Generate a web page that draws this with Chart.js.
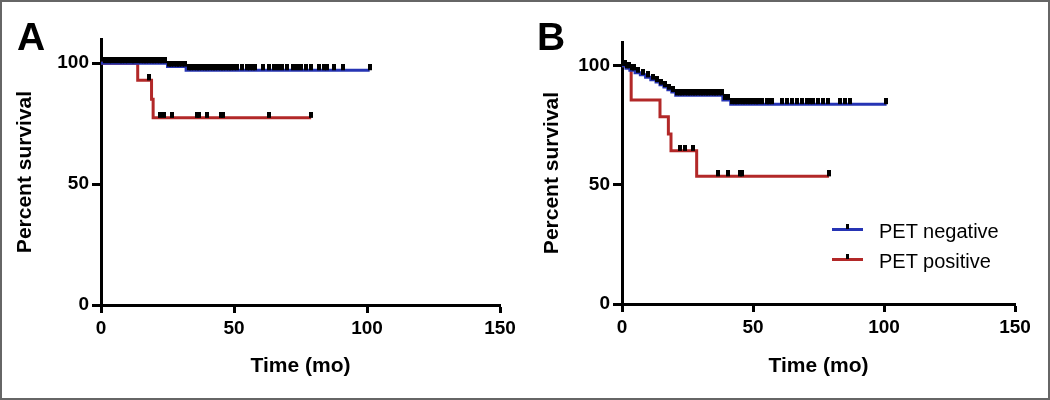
<!DOCTYPE html>
<html>
<head>
<meta charset="utf-8">
<script src="https://cdn.jsdelivr.net/npm/chart.js@4.4.1/dist/chart.umd.min.js"></script>
<style>
  html, body { margin: 0; padding: 0; background: #fff; }
  #frame { position: relative; width: 1050px; height: 400px; overflow: hidden;
           font-family: "Liberation Sans", Arial, sans-serif; color: #000; }
  #border { position: absolute; left: 0; top: 0; right: 0; bottom: 0;
            border: 2px solid #666; pointer-events: none; }
  canvas { position: absolute; top: 0; }
  .letter { position: absolute; font-weight: bold; font-size: 39px; line-height: 39px; }
  .legend-row { position: absolute; left: 832px; height: 20px; }
  .legend-row .swatch { position: absolute; left: 0; top: 7px; width: 31px; height: 3px; }
  .legend-row .tick { position: absolute; left: 14px; top: 3px; width: 3px; height: 5px; background: #000; }
  .legend-row .label { position: absolute; left: 47px; top: 0; font-size: 20px; line-height: 20px; white-space: nowrap; }
</style>
</head>
<body>
<div id="frame">
  <canvas id="chartA" width="525" height="400" style="left:0"></canvas>
  <canvas id="chartB" width="525" height="400" style="left:525px"></canvas>
  <div class="letter" style="left:17px;top:17px">A</div>
  <div class="letter" style="left:537px;top:17px">B</div>
  <div class="legend-row" style="top:221px">
    <div class="swatch" style="background:rgb(38,52,180)"></div><div class="tick"></div>
    <div class="label">PET negative</div>
  </div>
  <div class="legend-row" style="top:251px">
    <div class="swatch" style="background:rgb(178,40,40)"></div><div class="tick"></div>
    <div class="label">PET positive</div>
  </div>
  <div id="border"></div>
</div>
<script>
// Axis ticks
const xTicks = [0, 50, 100, 150];
const yTicks = [0, 50, 100];

// Panel A - PET negative
const aNegTime = [0, 25, 32, 101];
const aNegSurv = [100, 98.6, 97.1, 97.1];
const aNegCens = [1.5, 3, 4, 5.5, 7, 8, 9, 10, 11.5, 12.5, 14, 15, 16, 17, 18, 19, 20, 21, 22, 23, 24,
  25.5, 26.5, 27.5, 28.5, 29.5, 30.5, 31.5, 33, 34, 35, 36, 37, 38, 39, 40, 41, 42, 43, 44, 45, 46,
  47, 48, 49, 50, 51, 53, 55, 56, 57, 58, 61, 63, 65, 66.5, 68, 70, 72, 73.5, 75, 77, 79, 82, 84,
  85, 87.5, 91, 101];
// Panel A - PET positive
const aPosTime = [0, 13.8, 19, 19.6, 79];
const aPosSurv = [100, 92.9, 85.1, 77.4, 77.4];
const aPosCens = [18, 22.2, 23.8, 26.6, 36, 37, 40, 45, 46, 63, 79];

// Panel B - PET negative
const bNegTime = [0, 1.5, 3, 5, 7, 9, 11, 13, 14.5, 16, 17.5, 19, 20.5, 38.5, 41.5, 101];
const bNegSurv = [100, 99, 98.1, 97.1, 96.2, 95.2, 94.2, 93.2, 92.1, 91.1, 90, 89, 87.6, 85.7, 83.9, 83.9];
const bNegCens = [0.7, 1, 2, 2.5, 4, 4.5, 6, 8, 10, 12, 13.5, 15, 16.5, 18, 19.5, 21, 22, 23, 24, 25,
  26, 27, 28, 29, 30, 31, 32, 33, 34, 35, 36, 37, 38, 39.5, 40.5, 42, 43, 44, 45, 46, 47, 48, 49, 50,
  51, 52, 53.5, 55.2, 56.2, 57.4, 61, 62.9, 64.8, 66.7, 68.6, 70.5, 71.8, 73, 74.9, 76.8, 78.7,
  83.2, 85.1, 87, 100.8];
// Panel B - PET positive
const bPosTime = [0, 3.5, 14.5, 17.7, 18.7, 28.5, 79];
const bPosSurv = [100, 85.7, 78.6, 71.4, 64.3, 53.6, 53.6];
const bPosCens = [22.1, 24, 27.2, 36.8, 40.6, 45, 45.9, 79];

const BLUE = "rgb(38,52,180)";
const RED = "rgb(178,40,40)";
const FONT = "'Liberation Sans', Arial, sans-serif";

// censor tick: black mark sitting on top of the curve
const censorMark = document.createElement("canvas");
censorMark.width = 4;
censorMark.height = 12;
const cctx = censorMark.getContext("2d");
cctx.fillStyle = "#000";
cctx.fillRect(0, 0, 4, 6);

function survAt(times, surv, t) {
  let s = surv[0];
  for (let i = 0; i < times.length; i++) {
    if (times[i] <= t) s = surv[i];
  }
  return s;
}

function curve(times, surv, color) {
  return {
    type: "line",
    data: times.map((t, i) => ({ x: t, y: surv[i] })),
    borderColor: color,
    borderWidth: 3,
    stepped: "before",
    pointRadius: 0,
    fill: false,
    order: 1
  };
}

function censors(times, surv, cens) {
  return {
    type: "scatter",
    data: cens.map(t => ({ x: t, y: survAt(times, surv, t) })),
    pointStyle: censorMark,
    pointRadius: 3,
    showLine: false,
    order: 0
  };
}

function makePanel(id, datasets, box) {
  const axisGrid = len => ({
    display: true,
    drawOnChartArea: false,
    drawTicks: true,
    tickLength: len,
    tickWidth: 3,
    tickColor: "#000"
  });
  new Chart(document.getElementById(id), {
    type: "line",
    data: { datasets },
    options: {
      responsive: false,
      animation: false,
      layout: { padding: { top: box.top, right: box.right, left: 0, bottom: 0 } },
      plugins: { legend: { display: false }, tooltip: { enabled: false } },
      scales: {
        x: {
          type: "linear",
          min: 0,
          max: 150,
          bounds: "data",
          grid: axisGrid(8),
          border: { display: true, width: 3, color: "#000" },
          ticks: { color: "#000", padding: 4, maxRotation: 0, font: { family: FONT, size: 19, weight: "bold" } },
          title: {
            display: true,
            text: "Time (mo)",
            color: "#000",
            padding: { top: 0, bottom: 21 },
            font: { family: FONT, size: 21, weight: "bold" }
          },
          afterBuildTicks: s => { s.ticks = xTicks.map(v => ({ value: v })); },
          afterFit: s => { s.height = box.xHeight; s.paddingLeft = 0; s.paddingRight = 0; }
        },
        y: {
          type: "linear",
          min: 0,
          max: 110,
          bounds: "data",
          grid: axisGrid(9),
          border: { display: true, width: 3, color: "#000" },
          ticks: { color: "#000", padding: 3, font: { family: FONT, size: 19, weight: "bold" } },
          title: {
            display: true,
            text: "Percent survival",
            color: "#000",
            padding: { top: box.titlePad, bottom: 0 },
            font: { family: FONT, size: 21, weight: "bold" }
          },
          afterBuildTicks: s => { s.ticks = yTicks.map(v => ({ value: v })); },
          afterFit: s => { s.width = box.yWidth; s.paddingTop = 0; s.paddingBottom = 0; }
        }
      }
    }
  });
}

makePanel("chartA", [
  censors(aNegTime, aNegSurv, aNegCens),
  censors(aPosTime, aPosSurv, aPosCens),
  curve(aNegTime, aNegSurv, BLUE),
  curve(aPosTime, aPosSurv, RED)
], { top: 39, right: 25, yWidth: 101, xHeight: 95, titlePad: 13 });

makePanel("chartB", [
  censors(bNegTime, bNegSurv, bNegCens),
  censors(bPosTime, bPosSurv, bPosCens),
  curve(bNegTime, bNegSurv, BLUE),
  curve(bPosTime, bPosSurv, RED)
], { top: 42, right: 35, yWidth: 97, xHeight: 96, titlePad: 15 });
</script>
</body>
</html>
